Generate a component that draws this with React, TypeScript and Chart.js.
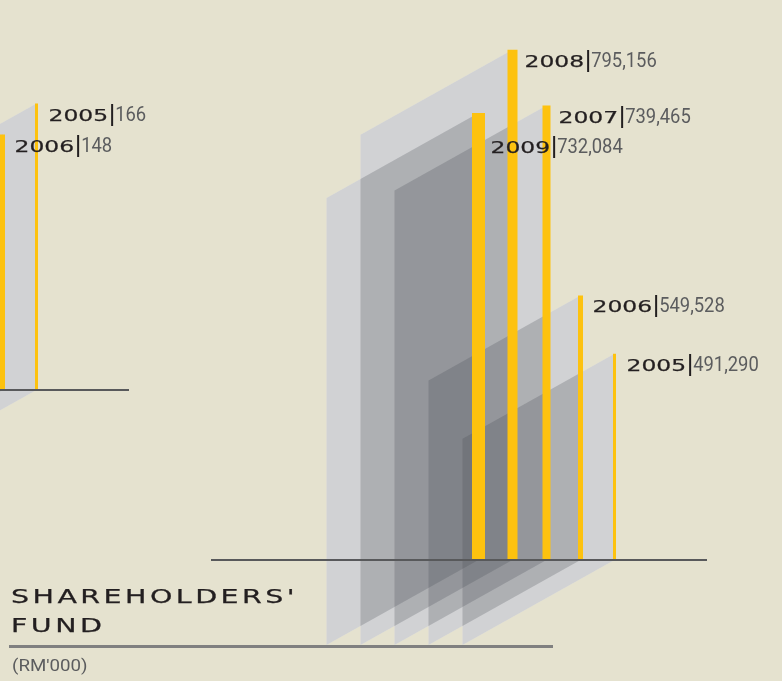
import React, { useEffect, useRef } from 'react';
import { Chart, registerables } from 'chart.js';

Chart.register(...registerables);

// ---- data ----
const MAIN_YEARS = ['2009', '2008', '2007', '2006', '2005'];
const MAIN_VALUES = [732084, 795156, 739465, 549528, 491290];
const PREV_YEARS = ['2006', '2005'];
const PREV_VALUES = [148, 166];
const TITLE_LINES = ["SHAREHOLDERS'", 'FUND'];
const UNIT_LABEL = "(RM'000)";

// ---- style ----
const BG = '#e5e2cf';
const YELLOW = '#fdc20f';
const PLANE_TINT = 'rgba(73,75,83,0.25)';
const PLANE_BASE = '#ffffff';
const INK = '#231f20';
const GREY_TEXT = '#5b5c5e';
const AXIS = '#58595b';
const BAR_WIDTH: Record<string, number> = { '2009': 13, '2008': 10, '2007': 8, '2006': 5, '2005': 3 };
const YEAR_FONT = '16.5px "DejaVu Sans"';
const YEAR_SX = 1.42;
const VALUE_FONT = '20px Roboto';
const VALUE_SX = 0.92;

const fmt = (v: number) => v.toLocaleString('en-US');

const planesPlugin = {
  id: 'depthPlanes',
  beforeDatasetsDraw(chart: any, _a: any, opts: any) {
    const ctx = chart.ctx;
    const paths: Array<() => void> = [];
    chart.data.datasets.forEach((ds: any, di: number) => {
      const meta = chart.getDatasetMeta(di);
      meta.data.forEach((el: any, i: number) => {
        if (ds.data[i] == null) return;
        const { x, y, base } = el.getProps(['x', 'y', 'base'], true);
        paths.push(() => {
          ctx.beginPath();
          ctx.moveTo(x, y);
          ctx.lineTo(x, base);
          ctx.lineTo(x - opts.dx, base + opts.dy);
          ctx.lineTo(x - opts.dx, y + opts.dy);
          ctx.closePath();
        });
      });
    });
    ctx.save();
    ctx.globalCompositeOperation = 'source-over';
    ctx.fillStyle = opts.tint;
    paths.forEach((p) => { p(); ctx.fill(); });
    ctx.globalCompositeOperation = 'destination-over';
    ctx.fillStyle = opts.base;
    paths.forEach((p) => { p(); ctx.fill(); });
    ctx.restore();
  },
};

const baselinePlugin = {
  id: 'baseLine',
  afterDatasetsDraw(chart: any, _a: any, opts: any) {
    const ctx = chart.ctx;
    const { left, right, bottom } = chart.chartArea;
    ctx.save();
    ctx.fillStyle = opts.color;
    const x0 = left - opts.extendLeft;
    const x1 = right + opts.extendRight;
    ctx.fillRect(x0, bottom - 1, x1 - x0, 2);
    ctx.restore();
  },
};

const labelsPlugin = {
  id: 'barLabels',
  afterDatasetsDraw(chart: any, _a: any, opts: any) {
    const ctx = chart.ctx;
    const items: any[] = [];
    chart.data.datasets.forEach((ds: any, di: number) => {
      const meta = chart.getDatasetMeta(di);
      meta.data.forEach((el: any, i: number) => {
        const v = ds.data[i];
        if (v == null) return;
        items.push({ x: el.x, top: el.y, year: chart.data.labels[i], value: v });
      });
    });
    ctx.save();
    items.forEach((it) => {
      ctx.font = YEAR_FONT;
      it.yw = ctx.measureText(it.year).width * YEAR_SX;
      ctx.font = VALUE_FONT;
      it.vw = ctx.measureText(fmt(it.value)).width * VALUE_SX;
      it.x0 = it.x + opts.offsetX;
      it.x1 = it.x0 + it.yw + 10 + it.vw;
      it.by = Math.round(it.top + opts.offsetY);
    });
    items.sort((a, b) => a.by - b.by);
    const placed: any[] = [];
    items.forEach((it) => {
      for (let guard = 0; guard < 20; guard++) {
        let moved = false;
        for (const p of placed) {
          if (it.x0 < p.x1 && p.x0 < it.x1 && Math.abs(it.by - p.by) < opts.minGap - 0.5) {
            it.by = p.by + opts.minGap;
            moved = true;
          }
        }
        if (!moved) break;
      }
      placed.push(it);
    });
    items.forEach((it) => {
      ctx.textBaseline = 'alphabetic';
      ctx.textAlign = 'left';
      ctx.save();
      ctx.translate(it.x0, it.by);
      ctx.scale(YEAR_SX, 1);
      ctx.font = YEAR_FONT;
      ctx.fillStyle = INK;
      ctx.strokeStyle = INK;
      ctx.lineWidth = 0.25;
      ctx.fillText(it.year, 0, 0);
      ctx.strokeText(it.year, 0, 0);
      ctx.restore();
      const dx = it.x0 + it.yw + 3;
      ctx.fillStyle = INK;
      ctx.fillRect(dx, it.by - 17, 2, 22);
      ctx.save();
      ctx.translate(dx + 4, it.by);
      ctx.scale(VALUE_SX, 1);
      ctx.font = VALUE_FONT;
      ctx.fillStyle = GREY_TEXT;
      ctx.fillText(fmt(it.value), 0, 0);
      ctx.restore();
    });
    ctx.restore();
  },
};

function makeChart(canvas: HTMLCanvasElement, years: string[], values: number[], cfg: any) {
  const datasets = years.map((yr, i) => ({
    label: yr,
    data: values.map((v, j) => (j === i ? v : null)),
    backgroundColor: YELLOW,
    borderWidth: 0,
    inflateAmount: 0,
    grouped: false,
    base: cfg.min,
    maxBarThickness: BAR_WIDTH[yr],
  }));
  return new Chart(canvas, {
    type: 'bar',
    data: { labels: years, datasets },
    options: {
      animation: false,
      responsive: false,
      devicePixelRatio: 1,
      events: [],
      layout: { padding: cfg.padding },
      scales: {
        x: { display: false, offset: true },
        y: { display: false, min: cfg.min, max: cfg.max },
      },
      plugins: {
        legend: { display: false },
        tooltip: { enabled: false },
        depthPlanes: { tint: PLANE_TINT, base: PLANE_BASE, dx: 152, dy: 85 },
        baseLine: { color: AXIS, extendLeft: cfg.extendLeft, extendRight: 75.5 },
        barLabels: { offsetX: 12, offsetY: 17, minGap: 30 },
      },
    } as any,
    plugins: [planesPlugin, baselinePlugin, labelsPlugin] as any,
  });
}

export default function App() {
  const mainRef = useRef<HTMLCanvasElement>(null);
  const prevRef = useRef<HTMLCanvasElement>(null);

  useEffect(() => {
    const main = makeChart(mainRef.current!, MAIN_YEARS, MAIN_VALUES, {
      padding: { left: 461.5, right: 150.5, top: 0, bottom: 121 },
      min: 285000,
      max: 845000,
      extendLeft: 250.5,
    });
    const prev = makeChart(prevRef.current!, PREV_YEARS, PREV_VALUES, {
      padding: { left: 85.5, right: 146.5, top: 0, bottom: 291 },
      min: 0,
      max: 226,
      extendLeft: 100,
    });
    return () => {
      main.destroy();
      prev.destroy();
    };
  }, []);

  return (
    <div
      style={{
        position: 'fixed',
        left: 0,
        top: 0,
        width: 782,
        height: 681,
        background: BG,
        overflow: 'hidden',
      }}
    >
      <canvas ref={prevRef} width={300} height={681} style={{ position: 'absolute', left: -100, top: 0 }} />
      <canvas ref={mainRef} width={782} height={681} style={{ position: 'absolute', left: 0, top: 0 }} />
      <div
        style={{
          position: 'absolute',
          left: 11,
          top: 582,
          fontFamily: '"DejaVu Sans"',
          fontSize: 19,
          lineHeight: '29px',
          letterSpacing: '2.3px',
          color: INK,
          WebkitTextStroke: '0.25px ' + INK,
          transform: 'scaleX(1.5)',
          transformOrigin: '0 0',
          whiteSpace: 'nowrap',
        }}
      >
        {TITLE_LINES.map((l) => (
          <div key={l}>{l}</div>
        ))}
      </div>
      <div style={{ position: 'absolute', left: 9, top: 645, width: 544, height: 3, background: '#808080' }} />
      <div
        style={{
          position: 'absolute',
          left: 12,
          top: 655,
          fontFamily: 'Roboto',
          fontSize: 17,
          lineHeight: '20px',
          color: GREY_TEXT,
          whiteSpace: 'nowrap',
          transform: 'scaleX(1.1)',
          transformOrigin: '0 0',
        }}
      >
        {UNIT_LABEL}
      </div>
    </div>
  );
}
